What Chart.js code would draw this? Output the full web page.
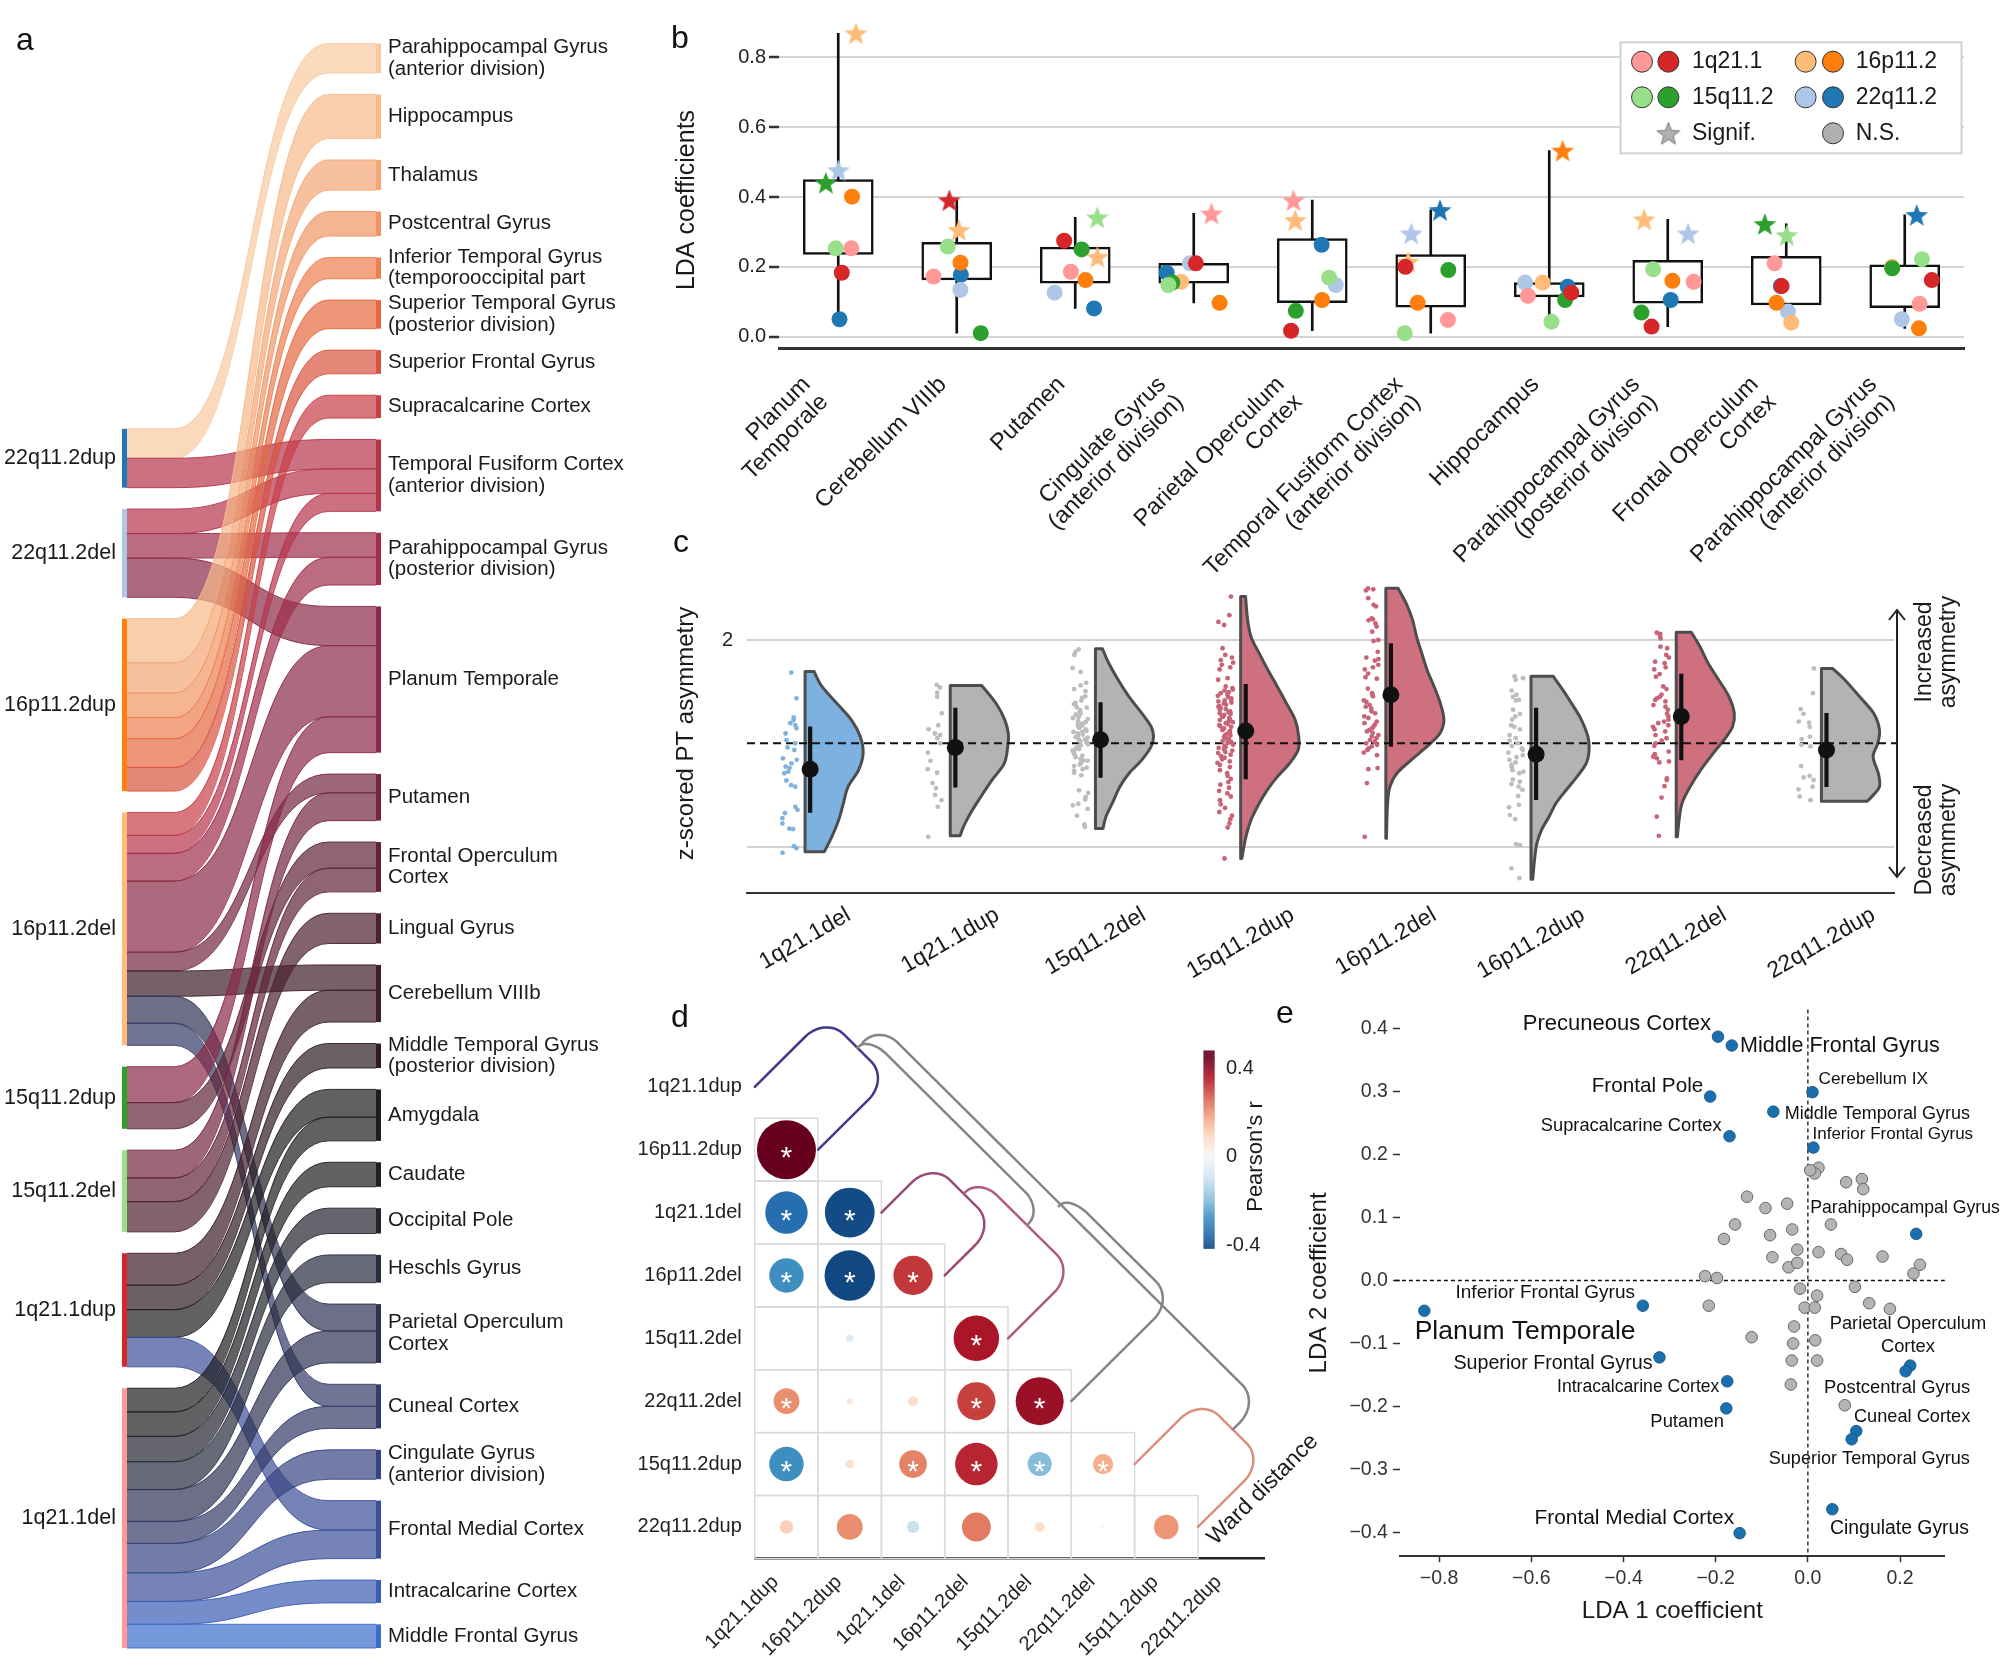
<!DOCTYPE html>
<html>
<head>
<meta charset="utf-8">
<title>CNV planum temporale asymmetry figure</title>
<script src="https://cdn.jsdelivr.net/npm/chart.js@4.4.1/dist/chart.umd.min.js"></script>
<style>
  html, body { margin: 0; padding: 0; background: #ffffff; }
  body { position: relative; width: 2003px; height: 1677px; overflow: hidden; }
  canvas { position: absolute; }
</style>
</head>
<body>
<canvas id="panelA" width="660" height="1677" style="left:0px;top:0px;"></canvas>
<canvas id="panelB" width="1363" height="600" style="left:640px;top:0px;"></canvas>
<canvas id="panelC" width="1363" height="470" style="left:640px;top:540px;"></canvas>
<canvas id="panelD" width="700" height="697" style="left:620px;top:980px;"></canvas>
<canvas id="panelE" width="723" height="687" style="left:1280px;top:990px;"></canvas>
<script>
// ===================== DATA =====================
// ---- panel a : sankey (CNV -> region, significant LDA coefficients) ----
const sankeySources = ['22q11.2dup','22q11.2del','16p11.2dup','16p11.2del','15q11.2dup','15q11.2del','1q21.1dup','1q21.1del'];
const sankeySourceColors = ['#1f77b4','#aec7e8','#ff7f0e','#ffbb78','#2ca02c','#98df8a','#d62728','#ff9896'];
const sankeyTargets = [
  'Parahippocampal Gyrus\n(anterior division)', 'Hippocampus', 'Thalamus', 'Postcentral Gyrus',
  'Inferior Temporal Gyrus\n(temporooccipital part', 'Superior Temporal Gyrus\n(posterior division)',
  'Superior Frontal Gyrus', 'Supracalcarine Cortex', 'Temporal Fusiform Cortex\n(anterior division)',
  'Parahippocampal Gyrus\n(posterior division)', 'Planum Temporale', 'Putamen', 'Frontal Operculum\nCortex',
  'Lingual Gyrus', 'Cerebellum VIIIb', 'Middle Temporal Gyrus\n(posterior division)', 'Amygdala', 'Caudate',
  'Occipital Pole', 'Heschls Gyrus', 'Parietal Operculum\nCortex', 'Cuneal Cortex',
  'Cingulate Gyrus\n(anterior division)', 'Frontal Medial Cortex', 'Intracalcarine Cortex', 'Middle Frontal Gyrus'];
const sankeyTargetColors = ['#f8c9a0','#f6b98a','#f4a776','#f19564','#ec7d4f','#e5683f','#d9523f','#c83f46','#b5344b','#a02e4b','#8a2a47','#732641','#5f2339','#4d2031','#3d1e29','#2f1c22','#201d1f','#202024','#24242f','#292b3d','#2e3251','#333b69','#374480','#3a4f99','#3b5db3','#3b6dcc'];
const linkSource = [0,0, 1,1,1, 2,2,2,2,2,2, 3,3,3,3,3,3,3,3, 4,4, 5,5,5, 6,6,6,6, 7,7,7,7,7,7,7,7,7,7];
const linkTarget = [0,8, 8,9,10, 1,2,3,4,5,6, 7,8,9,10,11,14,20,21, 10,12, 11,12,13, 14,15,16,23, 16,17,18,19,20,21,22,23,24,25];
const linkValue  = [0.36,0.36, 0.30,0.30,0.48, 0.54,0.37,0.30,0.26,0.35,0.29, 0.28,0.22,0.34,0.87,0.23,0.31,0.33,0.27, 0.44,0.32, 0.34,0.29,0.37, 0.39,0.30,0.34,0.36, 0.29,0.30,0.31,0.34,0.39,0.27,0.36,0.35,0.28,0.29];

// ---- panel b : LDA coefficients per region ----
const ldaRegions = ['Planum\nTemporale','Cerebellum VIIIb','Putamen','Cingulate Gyrus\n(anterior division)','Parietal Operculum\nCortex','Temporal Fusiform Cortex\n(anterior division)','Hippocampus','Parahippocampal Gyrus\n(posterior division)','Frontal Operculum\nCortex','Parahippocampal Gyrus\n(anterior division)'];
const cnvNames  = ['1q21.1del','1q21.1dup','15q11.2del','15q11.2dup','16p11.2del','16p11.2dup','22q11.2del','22q11.2dup'];
const cnvColors = ['#ff9896','#d62728','#98df8a','#2ca02c','#ffbb78','#ff7f0e','#aec7e8','#1f77b4'];
const lda_1q21del  = [0.253,0.172,0.186,0.353,0.391,0.048,0.117,0.157,0.210,0.094];
const lda_1q21dup  = [0.183,0.391,0.275,0.210,0.017,0.200,0.126,0.029,0.145,0.162];
const lda_15q11del = [0.253,0.258,0.342,0.148,0.169,0.010,0.043,0.193,0.291,0.222];
const lda_15q11dup = [0.441,0.010,0.250,0.155,0.074,0.191,0.105,0.069,0.323,0.196];
const lda_16p11del = [0.869,0.306,0.229,0.157,0.334,0.215,0.155,0.336,0.040,0.200];
const lda_16p11dup = [0.401,0.212,0.162,0.097,0.105,0.097,0.533,0.160,0.097,0.024];
const lda_22q11del = [0.477,0.134,0.126,0.210,0.148,0.296,0.155,0.296,0.072,0.050];
const lda_22q11dup = [0.050,0.177,0.081,0.183,0.263,0.363,0.143,0.105,0.145,0.349];
const sig_1q21del  = [0,0,0,1,1,0,0,0,0,0];
const sig_1q21dup  = [0,1,0,0,0,0,0,0,0,0];
const sig_15q11del = [0,0,1,0,0,0,0,0,1,0];
const sig_15q11dup = [1,0,0,0,0,0,0,0,1,0];
const sig_16p11del = [1,1,1,0,1,1,0,1,0,0];
const sig_16p11dup = [0,0,0,0,0,0,1,0,0,0];
const sig_22q11del = [1,0,0,0,0,1,0,1,0,0];
const sig_22q11dup = [0,0,0,0,0,1,0,0,0,1];
const legendPairs = [['1q21.1',0,1],['16p11.2',4,5],['15q11.2',2,3],['22q11.2',6,7]];

// ---- panel c : z-scored PT asymmetry ----
const cnvGroups = ['1q21.1del','1q21.1dup','15q11.2del','15q11.2dup','16p11.2del','16p11.2dup','22q11.2del','22q11.2dup'];
const groupMean    = [-0.50,-0.08,0.07,0.24,0.94,-0.21,0.52,-0.13];
const groupErrLow  = [-1.34,-0.85,-0.66,-0.69,-0.06,-1.09,-0.32,-0.84];
const groupErrHigh = [0.32,0.68,0.79,1.14,1.93,0.68,1.34,0.58];
const strip_1q21del = [1.37,0.87,0.50,0.45,0.39,0.35,0.29,0.19,0.06,0.00,-0.08,-0.13,-0.29,-0.32,-0.39,-0.45,-0.48,-0.55,-0.58,-0.72,-0.81,-0.84,-1.23,-1.29,-1.35,-1.45,-1.55,-1.65,-1.66,-1.99,-2.03,-2.12];
const strip_1q21dup = [1.13,1.08,0.98,0.90,0.58,0.35,0.27,0.19,0.16,0.10,0.00,-0.18,-0.34,-0.50,-0.57,-0.77,-0.87,-1.00,-1.10,-1.23,-1.81];
const strip_15q11del = [1.82,1.77,1.71,1.46,1.38,1.17,1.12,1.05,1.01,0.91,0.88,0.83,0.78,0.76,0.70,0.69,0.64,0.62,0.57,0.56,0.51,0.49,0.47,0.43,0.41,0.38,0.36,0.35,0.31,0.30,0.27,0.24,0.22,0.22,0.19,0.17,0.15,0.12,0.11,0.08,0.07,0.04,0.02,0.01,-0.02,-0.04,-0.05,-0.09,-0.11,-0.14,-0.15,-0.18,-0.22,-0.24,-0.27,-0.30,-0.33,-0.34,-0.38,-0.41,-0.44,-0.47,-0.50,-0.53,-0.57,-0.62,-0.91,-0.96,-1.04,-1.09,-1.17,-1.20,-1.27,-1.40,-1.57,-1.62];
const strip_15q11dup = [2.84,2.48,2.35,2.29,1.84,1.71,1.66,1.61,1.56,1.52,1.47,1.43,1.26,1.23,1.10,1.07,1.04,1.02,0.99,0.97,0.94,0.92,0.90,0.87,0.85,0.83,0.81,0.79,0.77,0.75,0.72,0.71,0.68,0.66,0.65,0.62,0.60,0.58,0.57,0.55,0.52,0.51,0.49,0.46,0.45,0.43,0.41,0.39,0.37,0.35,0.33,0.32,0.29,0.28,0.26,0.24,0.22,0.20,0.19,0.17,0.15,0.13,0.11,0.10,0.08,0.06,0.04,0.03,0.01,-0.01,-0.03,-0.05,-0.07,-0.09,-0.12,-0.14,-0.17,-0.19,-0.22,-0.25,-0.28,-0.31,-0.35,-0.38,-0.42,-0.46,-0.52,-0.58,-0.63,-0.69,-0.75,-0.80,-0.86,-0.92,-0.97,-1.03,-1.10,-1.18,-1.25,-1.33,-1.40,-1.47,-1.55,-1.63,-2.23];
const strip_16p11del = [3.00,2.98,2.96,2.81,2.68,2.65,2.42,2.40,2.38,2.32,2.26,2.16,2.00,1.98,1.77,1.66,1.63,1.60,1.52,1.47,1.43,1.35,1.28,1.25,1.06,0.97,0.94,0.91,0.83,0.80,0.74,0.71,0.67,0.62,0.58,0.52,0.49,0.42,0.39,0.36,0.32,0.29,0.26,0.23,0.20,0.16,0.13,0.10,0.06,0.03,0.00,-0.03,-0.06,-0.10,-0.13,-0.18,-0.23,-0.48,-0.50,-0.77,-1.81];
const strip_16p11dup = [1.30,1.26,1.23,1.02,0.94,0.90,0.84,0.83,0.65,0.57,0.52,0.46,0.35,0.32,0.27,0.16,0.10,0.05,0.00,-0.05,-0.10,-0.13,-0.18,-0.23,-0.27,-0.32,-0.37,-0.42,-0.46,-0.52,-0.55,-0.58,-0.70,-0.74,-0.79,-0.84,-0.90,-1.02,-1.19,-1.24,-1.39,-1.47,-1.95,-1.97,-2.42,-2.61];
const strip_22q11del = [2.14,2.12,2.08,2.03,1.87,1.84,1.71,1.66,1.58,1.55,1.47,1.43,1.34,1.29,1.10,1.05,0.94,0.90,0.87,0.84,0.81,0.74,0.71,0.65,0.57,0.52,0.46,0.42,0.39,0.35,0.32,0.27,0.23,0.16,0.10,0.05,0.00,-0.05,-0.16,-0.21,-0.26,-0.29,-0.35,-0.37,-0.68,-0.71,-0.83,-1.05,-1.42,-1.79];
const strip_22q11dup = [1.45,0.97,0.66,0.57,0.42,0.40,0.32,0.13,0.08,-0.03,-0.06,-0.44,-0.63,-0.66,-0.71,-0.84,-0.89,-1.03,-1.10];
// half-violin outlines: [asymmetry value, relative width]
const violin_1q21del = [[1.39,0.155],[1.10,0.29],[0.77,0.55],[0.45,0.80],[0.13,0.95],[-0.19,1.0],[-0.52,0.92],[-0.84,0.74],[-1.16,0.66],[-1.48,0.58],[-1.81,0.46],[-2.10,0.33]];
const violin_1q21dup = [[1.12,0.54],[0.77,0.79],[0.45,0.94],[0.19,1.0],[-0.06,0.99],[-0.39,0.93],[-0.71,0.72],[-1.03,0.53],[-1.35,0.35],[-1.61,0.23],[-1.79,0.17]];
const violin_15q11del = [[1.83,0.12],[1.55,0.23],[1.23,0.39],[0.90,0.58],[0.58,0.80],[0.32,0.96],[0.13,1.0],[-0.06,0.96],[-0.32,0.80],[-0.58,0.58],[-0.84,0.42],[-1.16,0.29],[-1.42,0.18],[-1.65,0.13]];
const violin_15q11dup = [[2.84,0.085],[2.39,0.12],[2.06,0.18],[1.74,0.32],[1.42,0.47],[1.10,0.63],[0.77,0.79],[0.45,0.94],[0.13,1.0],[-0.13,0.99],[-0.39,0.84],[-0.65,0.63],[-0.90,0.46],[-1.16,0.32],[-1.48,0.18],[-1.81,0.09],[-2.23,0.02]];
const violin_16p11del = [[3.00,0.21],[2.71,0.35],[2.39,0.46],[2.06,0.53],[1.74,0.62],[1.42,0.71],[1.10,0.83],[0.77,0.94],[0.45,1.0],[0.19,0.93],[-0.06,0.71],[-0.32,0.44],[-0.58,0.19],[-0.84,0.07],[-1.16,0.03],[-1.84,0.01]];
const violin_16p11dup = [[1.30,0.38],[1.03,0.55],[0.77,0.70],[0.45,0.87],[0.13,0.98],[-0.13,1.0],[-0.39,0.95],[-0.65,0.79],[-0.90,0.61],[-1.16,0.43],[-1.42,0.31],[-1.68,0.18],[-1.94,0.10],[-2.26,0.06],[-2.63,0.03]];
const violin_22q11del = [[2.15,0.26],[1.87,0.41],[1.55,0.55],[1.23,0.73],[0.90,0.91],[0.58,1.0],[0.32,0.97],[0.06,0.82],[-0.19,0.64],[-0.52,0.42],[-0.84,0.24],[-1.16,0.10],[-1.48,0.05],[-1.81,0.02]];
const violin_22q11dup = [[1.45,0.19],[1.23,0.40],[0.90,0.66],[0.58,0.90],[0.26,1.0],[0.00,0.97],[-0.26,0.89],[-0.58,0.98],[-0.84,1.0],[-1.03,0.87],[-1.12,0.79]];
const violinColors = ['#7db2e0','#b3b3b3','#b3b3b3','#cf707f','#cf707f','#b3b3b3','#cf707f','#b3b3b3'];
const stripColors  = ['#7fb2df','#bdbdbd','#bdbdbd','#c86478','#c86478','#bdbdbd','#c86478','#bdbdbd'];

// ---- panel d : correlation between CNV LDA profiles ----
const corrLabels = ['1q21.1dup','16p11.2dup','1q21.1del','16p11.2del','15q11.2del','22q11.2del','15q11.2dup','22q11.2dup'];
const corrRow1 = [0.48];
const corrRow2 = [-0.345,-0.405];
const corrRow3 = [-0.28,-0.41,0.32];
const corrRow4 = [0.00,-0.06,0.01,0.37];
const corrRow5 = [0.21,0.05,0.08,0.31,0.39];
const corrRow6 = [-0.28,0.07,0.225,0.345,-0.195,0.165];
const corrRow7 = [0.11,0.21,-0.10,0.235,0.08,0.02,0.20];
const sigRow1 = [1];
const sigRow2 = [1,1];
const sigRow3 = [1,1,1];
const sigRow4 = [0,0,0,1];
const sigRow5 = [1,0,0,1,1];
const sigRow6 = [1,0,1,1,1,1];
const sigRow7 = [0,0,0,0,0,0,0];
// Ward dendrogram merges along the diagonal: [leftPos, leftHeight, rightPos, rightHeight, mergeHeight, colour]
const wardMerges = [
  [0, 0, 1, 0, 1.12, '#3f3a8c'],
  [2, 0, 3, 0, 0.80, '#9b4a78'],
  [2.5, 0.80, 4, 0, 1.05, '#b05a82'],
  [0.5, 1.12, 3.25, 1.05, 1.30, '#858585'],
  [3.35, 1.45, 5, 0, 1.62, '#858585'],
  [6, 0, 7, 0, 1.05, '#d9907e'],
  [0.5, 1.2, 6.5, 1.05, 1.48, '#858585']
];

// ---- panel e : LDA1 vs LDA2 coefficients ----
const nsLDA1 = [0.023,0.015,0.005,0.083,0.117,0.120,-0.132,-0.092,-0.045,-0.158,0.050,-0.082,-0.034,-0.182,-0.023,-0.077,0.023,0.072,0.085,0.162,-0.042,-0.023,0.243,0.229,-0.223,-0.197,-0.017,0.102,0.020,-0.215,-0.007,0.015,0.133,0.178,-0.030,-0.122,-0.032,0.016,-0.035,0.020,-0.037,0.080];
const nsLDA2 = [0.179,0.170,0.175,0.156,0.161,0.145,0.133,0.115,0.122,0.089,0.089,0.072,0.081,0.066,0.049,0.037,0.045,0.042,0.033,0.038,0.021,0.028,0.025,0.011,0.007,0.004,-0.013,-0.010,-0.024,-0.040,-0.043,-0.043,-0.036,-0.045,-0.073,-0.090,-0.100,-0.095,-0.127,-0.127,-0.165,-0.198];
const sigRegions = ['Precuneous Cortex','Middle Frontal Gyrus','Frontal Pole','Supracalcarine Cortex','Cerebellum IX','Middle Temporal Gyrus','Inferior Frontal Gyrus','Parahippocampal Gyrus','Inferior Frontal Gyrus','Planum Temporale','Superior Frontal Gyrus','Intracalcarine Cortex','Putamen','Parietal Operculum\nCortex','Postcentral Gyrus','Cuneal Cortex','Superior Temporal Gyrus','Cingulate Gyrus','Frontal Medial Cortex'];
const sigLDA1 = [-0.195,-0.165,-0.212,-0.170,0.010,-0.075,0.012,0.235,-0.358,-0.832,-0.322,-0.175,-0.177,0.222,0.212,0.105,0.095,0.053,-0.148];
const sigLDA2 = [0.387,0.373,0.292,0.229,0.299,0.268,0.211,0.074,-0.040,-0.048,-0.122,-0.160,-0.203,-0.135,-0.144,-0.239,-0.252,-0.363,-0.401];
// label anchor (in coefficient units), alignment and font size
const labelLDA1 = [-0.210,-0.147,-0.227,-0.187,0.023,-0.050,0.010,0.005,-0.375,-0.853,-0.337,-0.192,-0.182,0.217,0.035,0.100,-0.085,0.048,-0.160];
const labelLDA2 = [0.407,0.372,0.308,0.246,0.319,0.264,0.232,0.115,-0.020,-0.081,-0.132,-0.170,-0.224,-0.0875,-0.170,-0.216,-0.283,-0.394,-0.377];
const labelAlign = ['right','left','right','right','left','left','left','left','right','left','right','right','right','center','left','left','left','left','right'];
const labelSize = [22,21.5,20.7,18.3,17.3,18,17,17.7,19,26.5,19.7,17.6,18.4,18.3,18.4,18.2,18.1,19.4,20.9];

// ===================== HELPERS =====================
const FONT = "'Liberation Sans', Arial, Helvetica, sans-serif";
Chart.defaults.font.family = FONT;
Chart.defaults.color = '#222';
Chart.defaults.animation = false;
Chart.defaults.events = [];
Chart.defaults.plugins.legend.display = false;
Chart.defaults.plugins.tooltip.enabled = false;

function hexRgb(h) { h = h.replace('#',''); return [parseInt(h.substr(0,2),16), parseInt(h.substr(2,2),16), parseInt(h.substr(4,2),16)]; }
function rgba(h, a) { const c = hexRgb(h); return `rgba(${c[0]},${c[1]},${c[2]},${a})`; }
function jitter(a, b) { const v = Math.sin(a * 12.9898 + b * 78.233) * 43758.5453; return v - Math.floor(v) - 0.5; }
function txt(ctx, text, x, y, o = {}) {
  const size = o.size || 20, lh = o.lh || size * 1.08;
  const lines = String(text).split('\n');
  ctx.save();
  ctx.translate(x, y);
  if (o.rot) ctx.rotate(o.rot);
  ctx.font = `${o.weight || 'normal'} ${size}px ${FONT}`;
  ctx.fillStyle = o.color || '#1a1a1a';
  ctx.textAlign = o.align || 'left';
  ctx.textBaseline = o.baseline || 'middle';
  const dx = o.dx || 0;
  lines.forEach((ln, i) => ctx.fillText(ln, dx, (i - (lines.length - 1) / 2) * lh));
  ctx.restore();
}
// rotated multi-line tick label; mode 'right' = block right edge at tick (lines right-aligned), 'center' = block centred on tick
function rotatedLabel(ctx, text, tickX, axisY, size, lh, deg, pad, mode) {
  const lines = text.split('\n');
  ctx.save();
  ctx.font = `${size}px ${FONT}`;
  const w = Math.max(...lines.map(l => ctx.measureText(l).width));
  ctx.restore();
  const h = lines.length * lh;
  const a = deg * Math.PI / 180, c = Math.cos(a), s = Math.sin(a);
  const halfW = (w * c + h * s) / 2, halfH = (w * s + h * c) / 2;
  if (mode === 'right') {
    txt(ctx, text, tickX - halfW, axisY + pad + halfH, { size, lh, align: 'right', dx: w / 2, rot: -a });
  } else {
    txt(ctx, text, tickX, axisY + pad + halfH, { size, lh, align: 'center', rot: -a });
  }
}
function smoothThrough(ctx, pts) {
  for (let i = 0; i < pts.length - 1; i++) {
    const p0 = pts[i - 1] || pts[i], p1 = pts[i], p2 = pts[i + 1], p3 = pts[i + 2] || pts[i + 1];
    ctx.bezierCurveTo(p1[0] + (p2[0] - p0[0]) / 6, p1[1] + (p2[1] - p0[1]) / 6,
                      p2[0] - (p3[0] - p1[0]) / 6, p2[1] - (p3[1] - p1[1]) / 6, p2[0], p2[1]);
  }
}
function makeStar(color, R, stroke) {
  const S = Math.ceil(R * 2 + 4);
  const cv = document.createElement('canvas'); cv.width = S; cv.height = S;
  const g = cv.getContext('2d');
  g.translate(S / 2, S / 2 + R * 0.1);
  g.beginPath();
  for (let i = 0; i < 10; i++) {
    const rr = i % 2 ? R * 0.42 : R, a = -Math.PI / 2 + i * Math.PI / 5;
    g.lineTo(rr * Math.cos(a), rr * Math.sin(a));
  }
  g.closePath(); g.fillStyle = color; g.fill();
  if (stroke) { g.strokeStyle = stroke; g.lineWidth = 1; g.stroke(); }
  return cv;
}
const RDBU = [[5,48,97],[33,102,172],[67,147,195],[146,197,222],[209,229,240],[247,247,247],[253,219,199],[244,165,130],[214,96,77],[178,24,43],[103,0,31]];
function rdbu(v) {
  let t = 0.5 + v / (2 * 0.45); t = Math.max(0, Math.min(1, t));
  const p = t * 10, i = Math.min(9, Math.floor(p)), f = p - i;
  const c = RDBU[i].map((ch, j) => Math.round(ch + (RDBU[i + 1][j] - ch) * f));
  return `rgb(${c[0]},${c[1]},${c[2]})`;
}
function panelLetter(ctx, ch, x, y) { txt(ctx, ch, x, y, { size: 32, baseline: 'alphabetic', color: '#111' }); }

// ===================== PANEL A : SANKEY =====================
const GAP = 0.262;
const tVal = sankeyTargets.map(() => 0), sVal = sankeySources.map(() => 0);
linkValue.forEach((v, i) => { tVal[linkTarget[i]] += v; sVal[linkSource[i]] += v; });
const tTop = []; let acc = 0;
tVal.forEach((v, t) => { tTop[t] = acc; acc += v + GAP; });
const rightTotal = acc - GAP;
const leftTotal = sVal.reduce((a, b) => a + b, 0) + GAP * (sankeySources.length - 1);
const sTop = []; acc = rightTotal - leftTotal;
sVal.forEach((v, s) => { sTop[s] = acc; acc += v + GAP; });
const linkSy = [], linkTy = [];
{
  const idx = linkValue.map((v, i) => i);
  const sOff = sTop.slice(), tOff = tTop.slice();
  idx.slice().sort((a, b) => linkSource[a] - linkSource[b] || linkTarget[a] - linkTarget[b])
     .forEach(i => { linkSy[i] = sOff[linkSource[i]]; sOff[linkSource[i]] += linkValue[i]; });
  idx.slice().sort((a, b) => linkTarget[a] - linkTarget[b] || linkSource[a] - linkSource[b])
     .forEach(i => { linkTy[i] = tOff[linkTarget[i]]; tOff[linkTarget[i]] += linkValue[i]; });
}
const sankeyPlugin = {
  id: 'sankey',
  afterDraw(chart) {
    const { ctx, scales: { x, y } } = chart;
    const x0 = x.getPixelForValue(0), x1 = x.getPixelForValue(1);
    const w = x1 - x0, xa = x0 + 0.19 * w, xb = x1 - 0.19 * w, xm = (xa + xb) / 2;
    ctx.save();
    linkValue.forEach((v, i) => {
      const ys0 = y.getPixelForValue(linkSy[i]), ys1 = y.getPixelForValue(linkSy[i] + v);
      const yt0 = y.getPixelForValue(linkTy[i]), yt1 = y.getPixelForValue(linkTy[i] + v);
      const col = sankeyTargetColors[linkTarget[i]];
      ctx.beginPath();
      ctx.moveTo(x0, ys0); ctx.lineTo(xa, ys0); ctx.bezierCurveTo(xm, ys0, xm, yt0, xb, yt0); ctx.lineTo(x1, yt0);
      ctx.lineTo(x1, yt1); ctx.lineTo(xb, yt1); ctx.bezierCurveTo(xm, yt1, xm, ys1, xa, ys1); ctx.lineTo(x0, ys1);
      ctx.closePath();
      ctx.fillStyle = rgba(col, 0.7); ctx.fill();
      ctx.strokeStyle = rgba(col, 0.9); ctx.lineWidth = 1;
      ctx.beginPath(); ctx.moveTo(x0, ys0); ctx.lineTo(xa, ys0); ctx.bezierCurveTo(xm, ys0, xm, yt0, xb, yt0); ctx.lineTo(x1, yt0); ctx.stroke();
      ctx.beginPath(); ctx.moveTo(x0, ys1); ctx.lineTo(xa, ys1); ctx.bezierCurveTo(xm, ys1, xm, yt1, xb, yt1); ctx.lineTo(x1, yt1); ctx.stroke();
    });
    sankeySources.forEach((name, s) => {
      const ya = y.getPixelForValue(sTop[s]), yb = y.getPixelForValue(sTop[s] + sVal[s]);
      ctx.fillStyle = sankeySourceColors[s]; ctx.fillRect(x0 - 5, ya, 5, yb - ya);
      txt(ctx, name, x0 - 11, (ya + yb) / 2, { size: 21.5, align: 'right' });
    });
    sankeyTargets.forEach((name, t) => {
      const ya = y.getPixelForValue(tTop[t]), yb = y.getPixelForValue(tTop[t] + tVal[t]);
      ctx.fillStyle = sankeyTargetColors[t]; ctx.fillRect(x1, ya, 5, yb - ya);
      txt(ctx, name, x1 + 12, (ya + yb) / 2, { size: 20.5, align: 'left', lh: 21.5 });
    });
    panelLetter(ctx, 'a', 16, 50);
    ctx.restore();
  }
};
new Chart(document.getElementById('panelA'), {
  type: 'scatter',
  data: { datasets: [] },
  options: {
    responsive: false,
    layout: { padding: { left: 127, right: 284, top: 43.6, bottom: 29 } },
    scales: {
      x: { type: 'linear', display: false, min: 0, max: 1 },
      y: { type: 'linear', display: false, min: 0, max: rightTotal, reverse: true }
    }
  },
  plugins: [sankeyPlugin]
});

// ===================== PANEL B : BOX + STRIP =====================
const ldaSeries = [lda_1q21del, lda_1q21dup, lda_15q11del, lda_15q11dup, lda_16p11del, lda_16p11dup, lda_22q11del, lda_22q11dup];
const sigSeries = [sig_1q21del, sig_1q21dup, sig_15q11del, sig_15q11dup, sig_16p11del, sig_16p11dup, sig_22q11del, sig_22q11dup];
function quantile(sorted, p) { const pos = (sorted.length - 1) * p, lo = Math.floor(pos), hi = Math.ceil(pos); return sorted[lo] + (sorted[hi] - sorted[lo]) * (pos - lo); }
const boxStats = ldaRegions.map((_, r) => {
  const vals = ldaSeries.map(s => s[r]).sort((a, b) => a - b);
  return { min: vals[0], max: vals[vals.length - 1], q1: quantile(vals, 0.25), q3: quantile(vals, 0.75) };
});
const starImgs = cnvColors.map(c => makeStar(c, 12));
const bDatasets = [];
cnvNames.forEach((name, k) => {
  bDatasets.push({
    type: 'scatter', label: name, order: 1, clip: false,
    data: ldaSeries[k].map((v, r) => ({ x: r + jitter(k + 1, r + 1) * 0.46, y: v })),
    pointStyle: ctx => sigSeries[k][ctx.dataIndex] ? starImgs[k] : 'circle',
    pointRadius: 8, pointBackgroundColor: cnvColors[k], pointBorderWidth: 0
  });
});
bDatasets.push({ type: 'bar', label: 'IQR', order: 2, grouped: false,
  data: boxStats.map((b, r) => ({ x: r, y: [b.q1, b.q3] })),
  backgroundColor: '#ffffff', borderColor: '#111111', borderWidth: 2.5, borderSkipped: false, barThickness: 70 });
bDatasets.push({ type: 'bar', label: 'range', order: 3, grouped: false,
  data: boxStats.map((b, r) => ({ x: r, y: [b.min, b.max] })),
  backgroundColor: '#111111', borderWidth: 0, barThickness: 2 });
const panelBPlugin = {
  id: 'pb',
  afterDraw(chart) {
    const { ctx, scales: { x }, chartArea } = chart;
    ldaRegions.forEach((lab, r) => rotatedLabel(ctx, lab, x.getPixelForValue(r) - 5, chartArea.bottom, 23.5, 25, 45, 24, 'right'));
    txt(ctx, 'LDA coefficients', 47, 200, { size: 25, align: 'center', rot: -Math.PI / 2 });
    // legend
    const L = 980.5, T = 42.3, R = 1321.5, B = 153.3;
    ctx.save();
    ctx.fillStyle = '#ffffff'; ctx.fillRect(L, T, R - L, B - T);
    ctx.strokeStyle = '#d0d0d0'; ctx.lineWidth = 2; ctx.strokeRect(L, T, R - L, B - T);
    const rowsY = [61.7, 97.3, 133.3], colX = [[1002, 1028.4, 1052], [1165.6, 1193, 1215.7]];
    legendPairs.forEach((p, i) => {
      const col = colX[i % 2], yy = rowsY[Math.floor(i / 2)];
      [p[1], p[2]].forEach((ci, j) => {
        ctx.beginPath(); ctx.arc(col[j], yy, 10.5, 0, Math.PI * 2);
        ctx.fillStyle = cnvColors[ci]; ctx.fill(); ctx.strokeStyle = '#333'; ctx.lineWidth = 1; ctx.stroke();
      });
      txt(ctx, p[0], col[2], yy, { size: 23 });
    });
    const gStar = makeStar('#b0b0b0', 12, '#777777');
    ctx.drawImage(gStar, colX[0][1] - gStar.width / 2, rowsY[2] - gStar.height / 2);
    txt(ctx, 'Signif.', colX[0][2], rowsY[2], { size: 23 });
    ctx.beginPath(); ctx.arc(colX[1][1], rowsY[2], 10.5, 0, Math.PI * 2);
    ctx.fillStyle = '#b0b0b0'; ctx.fill(); ctx.strokeStyle = '#333'; ctx.lineWidth = 1; ctx.stroke();
    txt(ctx, 'N.S.', colX[1][2], rowsY[2], { size: 23 });
    ctx.restore();
    panelLetter(ctx, 'b', 31, 48);
    panelLetter(ctx, 'c', 33, 552);
  }
};
new Chart(document.getElementById('panelB'), {
  type: 'bar',
  data: { datasets: bDatasets },
  options: {
    responsive: false,
    layout: { padding: { left: 0, right: 39, top: 22.4, bottom: 252 } },
    scales: {
      x: { type: 'linear', min: -0.5, max: 9.5, offset: false,
           grid: { display: false }, ticks: { display: false },
           border: { display: true, color: '#333', width: 3 },
           afterFit: s => { s.height = 0; } },
      y: { type: 'linear', min: -0.0324, max: 0.9,
           grid: { color: '#d4d4d4', lineWidth: 2, drawTicks: true, tickLength: 10, tickColor: '#333', tickWidth: 2.5 },
           border: { display: false },
           ticks: { font: { size: 20 }, color: '#222', padding: 3, callback: v => v.toFixed(1) },
           afterBuildTicks: s => { s.ticks = [0, 0.2, 0.4, 0.6, 0.8].map(v => ({ value: v })); },
           afterFit: s => { s.width = 139; } }
    }
  },
  plugins: [panelBPlugin]
});

// ===================== PANEL C : RAINCLOUD =====================
const stripSeries = [strip_1q21del, strip_1q21dup, strip_15q11del, strip_15q11dup, strip_16p11del, strip_16p11dup, strip_22q11del, strip_22q11dup];
const violinSeries = [violin_1q21del, violin_1q21dup, violin_15q11del, violin_15q11dup, violin_16p11del, violin_16p11dup, violin_22q11del, violin_22q11dup];
const cDatasets = [];
cnvGroups.forEach((g, k) => cDatasets.push({
  type: 'scatter', label: g, order: 3,
  data: stripSeries[k].map((v, j) => ({ x: k - 0.105 + jitter(k + 11, j + 1) * 0.11, y: v })),
  pointRadius: 2.4, pointBackgroundColor: stripColors[k], pointBorderWidth: 0
}));
cDatasets.push({ type: 'bar', label: 'sd', order: 2, grouped: false,
  data: cnvGroups.map((g, k) => ({ x: k + 0.035, y: [groupErrLow[k], groupErrHigh[k]] })),
  backgroundColor: '#111111', borderWidth: 0, barThickness: 3.5 });
cDatasets.push({ type: 'scatter', label: 'mean', order: 1,
  data: cnvGroups.map((g, k) => ({ x: k + 0.035, y: groupMean[k] })),
  pointRadius: 8.5, pointBackgroundColor: '#111111', pointBorderWidth: 0 });
const panelCPlugin = {
  id: 'pc',
  beforeDatasetsDraw(chart) {
    const { ctx, scales: { x, y }, chartArea } = chart;
    ctx.save();
    violinSeries.forEach((prof, k) => {
      const ex = x.getPixelForValue(k);
      const pts = prof.map(([v, w]) => [x.getPixelForValue(k + 0.4 * w), y.getPixelForValue(v)]);
      ctx.beginPath();
      ctx.moveTo(ex, pts[0][1]);
      ctx.lineTo(pts[0][0], pts[0][1]);
      smoothThrough(ctx, pts);
      ctx.lineTo(ex, pts[pts.length - 1][1]);
      ctx.closePath();
      ctx.fillStyle = violinColors[k]; ctx.fill();
      ctx.lineWidth = 3; ctx.strokeStyle = '#4d4d4d'; ctx.lineJoin = 'round'; ctx.stroke();
    });
    const y0 = y.getPixelForValue(0);
    ctx.setLineDash([8, 5]); ctx.lineWidth = 2; ctx.strokeStyle = '#111';
    ctx.beginPath(); ctx.moveTo(chartArea.left, y0); ctx.lineTo(chartArea.right + 4, y0); ctx.stroke();
    ctx.restore();
  },
  afterDraw(chart) {
    const { ctx, scales: { x }, chartArea } = chart;
    cnvGroups.forEach((g, k) => rotatedLabel(ctx, g, x.getPixelForValue(k), chartArea.bottom, 23, 25, 30, 10, 'center'));
    txt(ctx, 'z-scored PT asymmetry', 46, 193.5, { size: 24, align: 'center', rot: -Math.PI / 2 });
    ctx.save();
    ctx.strokeStyle = '#222'; ctx.lineWidth = 2;
    const ax = 1257, ayT = 70, ayB = 337;
    ctx.beginPath(); ctx.moveTo(ax, ayT); ctx.lineTo(ax, ayB); ctx.stroke();
    ctx.beginPath(); ctx.moveTo(ax - 8, ayT + 10); ctx.lineTo(ax, ayT); ctx.lineTo(ax + 8, ayT + 10); ctx.stroke();
    ctx.beginPath(); ctx.moveTo(ax - 8, ayB - 10); ctx.lineTo(ax, ayB); ctx.lineTo(ax + 8, ayB - 10); ctx.stroke();
    ctx.restore();
    txt(ctx, 'Increased\nasymmetry', 1297, 112, { size: 23, lh: 24, align: 'center', rot: -Math.PI / 2 });
    txt(ctx, 'Decreased\nasymmetry', 1297, 300, { size: 23, lh: 24, align: 'center', rot: -Math.PI / 2 });
  }
};
new Chart(document.getElementById('panelC'), {
  type: 'scatter',
  data: { datasets: cDatasets },
  options: {
    responsive: false,
    layout: { padding: { left: 0, right: 109, top: 38, bottom: 117.4 } },
    scales: {
      x: { type: 'linear', min: -0.4, max: 7.5, offset: false, grid: { display: false, offset: false }, ticks: { display: false },
           border: { display: true, color: '#333', width: 2 }, afterFit: s => { s.height = 0; } },
      y: { type: 'linear', min: -2.89, max: 3.2,
           grid: { color: '#d2d2d2', lineWidth: 2, drawTicks: false }, border: { display: false },
           ticks: { font: { size: 20 }, color: '#222', padding: 14, callback: v => (v === 2 ? '2' : '') },
           afterBuildTicks: s => { s.ticks = [-2, 2].map(v => ({ value: v })); },
           afterFit: s => { s.width = 107; } }
    }
  },
  plugins: [panelCPlugin]
});

// ===================== PANEL D : CORRELATION MATRIX =====================
const corrRows = [corrRow1, corrRow2, corrRow3, corrRow4, corrRow5, corrRow6, corrRow7];
const sigRows = [sigRow1, sigRow2, sigRow3, sigRow4, sigRow5, sigRow6, sigRow7];
const dCells = [];
corrRows.forEach((row, ri) => row.forEach((v, c) => dCells.push({ x: c, y: ri + 1, v: v, s: sigRows[ri][c] })));
const panelDPlugin = {
  id: 'pd',
  beforeDatasetsDraw(chart) {
    const { ctx, scales: { x, y } } = chart;
    ctx.save(); ctx.strokeStyle = '#dadada'; ctx.lineWidth = 1.5;
    dCells.forEach(c => {
      const xa = x.getPixelForValue(c.x - 0.5), xb = x.getPixelForValue(c.x + 0.5);
      const ya = y.getPixelForValue(c.y - 0.5), yb = y.getPixelForValue(c.y + 0.5);
      ctx.strokeRect(xa, ya, xb - xa, yb - ya);
    });
    ctx.restore();
  },
  afterDraw(chart) {
    const { ctx, scales: { x, y } } = chart;
    ctx.save();
    dCells.forEach(c => {
      if (!c.s) return;
      txt(ctx, '*', x.getPixelForValue(c.x), y.getPixelForValue(c.y) + 17, { size: 30, align: 'center', baseline: 'alphabetic', color: '#ffffff' });
    });
    // dendrogram (rotated along the diagonal)
    const P = (s, h) => [x.getPixelForValue(s - 0.5 + h), y.getPixelForValue(s - h)];
    ctx.lineWidth = 2.5; ctx.lineJoin = 'round'; ctx.lineCap = 'round';
    wardMerges.forEach(m => {
      const [s1, h1, s2, h2, H, col] = m;
      const rs = Math.min(0.28, (s2 - s1) / 2), r1 = Math.min(0.32, (H - h1) * 0.9), r2 = Math.min(0.32, (H - h2) * 0.9);
      const pts = [P(s1, h1), P(s1, H - r1)];
      for (let i = 1; i <= 14; i++) { const a = i / 14 * Math.PI / 2; pts.push(P(s1 + rs * (1 - Math.cos(a)), H - r1 + r1 * Math.sin(a))); }
      pts.push(P(s2 - rs, H));
      for (let i = 1; i <= 14; i++) { const a = i / 14 * Math.PI / 2; pts.push(P(s2 - rs + rs * Math.sin(a), H - r2 * (1 - Math.cos(a)))); }
      pts.push(P(s2, h2));
      ctx.strokeStyle = col; ctx.beginPath();
      pts.forEach((p, i) => i ? ctx.lineTo(p[0], p[1]) : ctx.moveTo(p[0], p[1]));
      ctx.stroke();
    });
    // colour bar
    const cbL = 583.5, cbR = 594.6, cbT = 70.5, cbB = 267.7, vTop = 0.479, vBot = -0.412;
    for (let py = cbT; py < cbB; py += 1) {
      const v = vTop + (vBot - vTop) * (py - cbT) / (cbB - cbT);
      ctx.fillStyle = rdbu(v); ctx.fillRect(cbL, py, cbR - cbL, 1.3);
    }
    [[0.4, '0.4'], [0, '0'], [-0.4, '-0.4']].forEach(([v, lab]) => {
      const py = cbT + (vTop - v) / (vTop - vBot) * (cbB - cbT);
      txt(ctx, lab, 606, py, { size: 20, color: '#222' });
    });
    txt(ctx, "Pearson's r", 636, 176.5, { size: 22, align: 'center', rot: -Math.PI / 2 });
    txt(ctx, 'Ward distance', 643, 509.6, { size: 23, align: 'center', rot: -Math.PI / 4 });
    ctx.restore();
    panelLetter(ctx, 'd', 51, 47);
    panelLetter(ctx, 'e', 656, 43);
  }
};
new Chart(document.getElementById('panelD'), {
  type: 'scatter',
  data: { datasets: [{ label: 'r', data: dCells,
    pointRadius: ctx => Math.abs(ctx.raw.v) * 61.5,
    pointBackgroundColor: ctx => rdbu(ctx.raw.v), pointBorderWidth: 0 }] },
  options: {
    responsive: false,
    layout: { padding: { left: 0, right: 55.6, top: 25, bottom: 0 } },
    scales: {
      x: { type: 'linear', min: -0.5, max: 7.55,
           grid: { display: false, drawTicks: false }, border: { display: true, color: '#222', width: 2.5 },
           ticks: { font: { size: 20 }, color: '#222', padding: 12, labelOffset: -11, minRotation: 45, maxRotation: 45, autoSkip: false, callback: v => corrLabels[v] },
           afterBuildTicks: s => { s.ticks = corrLabels.map((_, i) => ({ value: i })); },
           afterFit: s => { s.height = 118.6; } },
      y: { type: 'linear', min: -1.229, max: 7.5, reverse: true,
           grid: { display: false, drawTicks: false }, border: { display: false },
           ticks: { font: { size: 20 }, color: '#222', padding: 13, autoSkip: false, callback: v => corrLabels[v] },
           afterBuildTicks: s => { s.ticks = corrLabels.map((_, i) => ({ value: i })); },
           afterFit: s => { s.width = 134.8; } }
    }
  },
  plugins: [panelDPlugin]
});

// ===================== PANEL E : LDA1 vs LDA2 =====================
const fmtMinus = v => (v < -1e-9 ? '\u2212' : '') + Math.abs(v).toFixed(1);
const panelEPlugin = {
  id: 'pe',
  beforeDatasetsDraw(chart) {
    const { ctx, scales: { x, y }, chartArea } = chart;
    ctx.save(); ctx.setLineDash([4, 3]); ctx.lineWidth = 1.3; ctx.strokeStyle = '#111';
    const x0 = x.getPixelForValue(0), y0 = y.getPixelForValue(0);
    ctx.beginPath(); ctx.moveTo(x0, chartArea.top); ctx.lineTo(x0, chartArea.bottom); ctx.stroke();
    ctx.beginPath(); ctx.moveTo(chartArea.left - 5, y0); ctx.lineTo(chartArea.right, y0); ctx.stroke();
    ctx.restore();
  },
  afterDraw(chart) {
    const { ctx, scales: { x, y }, chartArea } = chart;
    sigRegions.forEach((lab, i) => txt(ctx, lab, x.getPixelForValue(labelLDA1[i]), y.getPixelForValue(labelLDA2[i]),
      { size: labelSize[i], align: labelAlign[i], lh: 23, color: '#111' }));
    txt(ctx, 'LDA 1 coefficient', (chartArea.left + chartArea.right) / 2, chartArea.bottom + 55, { size: 24, align: 'center' });
    txt(ctx, 'LDA 2 coefficient', 39, (chartArea.top + chartArea.bottom) / 2, { size: 24, align: 'center', rot: -Math.PI / 2 });
  }
};
new Chart(document.getElementById('panelE'), {
  type: 'scatter',
  data: { datasets: [
    { label: 'Signif.', order: 0, data: sigLDA1.map((v, i) => ({ x: v, y: sigLDA2[i] })),
      pointRadius: 5.8, pointBackgroundColor: '#1a6faf', pointBorderColor: '#124e7d', pointBorderWidth: 0.8 },
    { label: 'N.S.', order: 1, data: nsLDA1.map((v, i) => ({ x: v, y: nsLDA2[i] })),
      pointRadius: 5.8, pointBackgroundColor: '#b4b4b4', pointBorderColor: '#666666', pointBorderWidth: 1 }
  ] },
  options: {
    responsive: false,
    layout: { padding: { left: 0, right: 58.2, top: 19.6, bottom: 0 } },
    scales: {
      x: { type: 'linear', min: -0.885, max: 0.297,
           grid: { display: true, drawOnChartArea: false, drawTicks: true, tickLength: 6, tickColor: '#333', tickWidth: 1.5 },
           border: { display: true, color: '#333', width: 2 },
           ticks: { font: { size: 19.5 }, color: '#333', padding: 5, callback: fmtMinus },
           afterBuildTicks: s => { s.ticks = [-0.8, -0.6, -0.4, -0.2, 0, 0.2].map(v => ({ value: v })); },
           afterFit: s => { s.height = 120.8; } },
      y: { type: 'linear', min: -0.4376, max: 0.43,
           grid: { display: true, drawOnChartArea: false, drawTicks: true, tickLength: 7, tickColor: '#333', tickWidth: 1.5 },
           border: { display: false },
           ticks: { font: { size: 19.5 }, color: '#333', padding: 5, callback: fmtMinus },
           afterBuildTicks: s => { s.ticks = [-0.4, -0.3, -0.2, -0.1, 0, 0.1, 0.2, 0.3, 0.4].map(v => ({ value: v })); },
           afterFit: s => { s.width = 119.9; } }
    }
  },
  plugins: [panelEPlugin]
});
</script>
</body>
</html>
